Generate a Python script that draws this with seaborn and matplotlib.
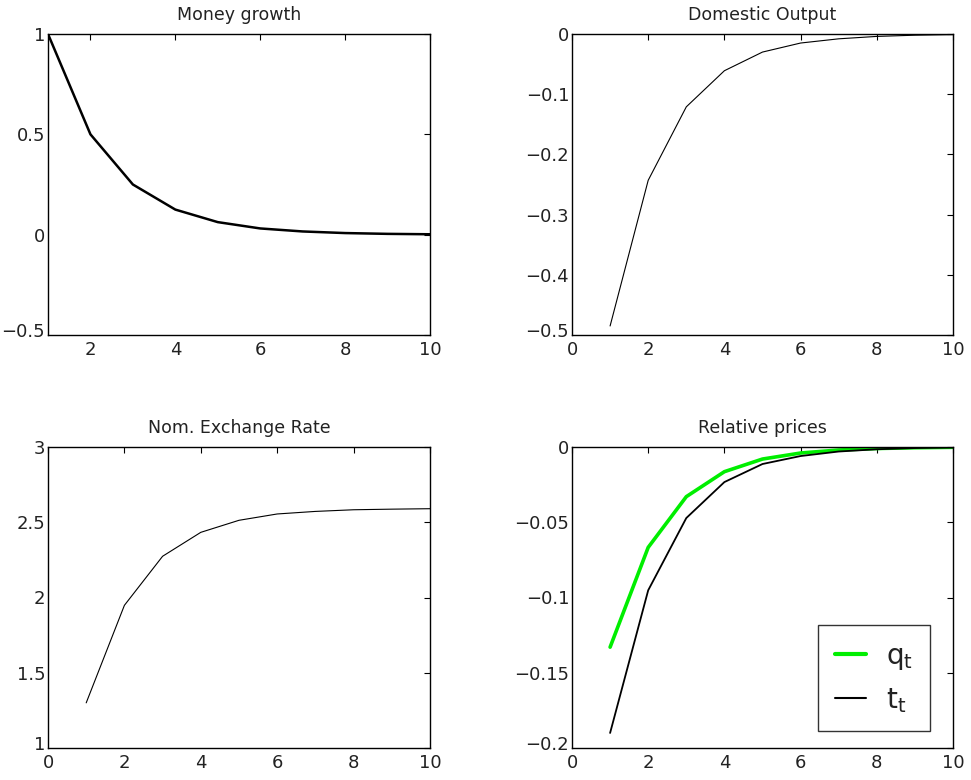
import matplotlib
matplotlib.use("Agg")
import matplotlib.pyplot as plt
import matplotlib.transforms as mtransforms
from matplotlib.ticker import FuncFormatter
import seaborn as sns

# Impulse responses over ten periods
periods = [1, 2, 3, 4, 5, 6, 7, 8, 9, 10]
money_growth = [1.0, 0.5, 0.25, 0.125, 0.0625, 0.031, 0.016, 0.008, 0.004, 0.002]
domestic_output = [-0.485, -0.243, -0.121, -0.061, -0.030, -0.015, -0.008, -0.004, -0.002, -0.001]
exchange_rate = [1.30, 1.948, 2.274, 2.433, 2.513, 2.555, 2.572, 2.583, 2.587, 2.590]
q_t = [-0.133, -0.0667, -0.033, -0.0164, -0.008, -0.004, -0.002, -0.001, -0.0005, -0.0002]
t_t = [-0.190, -0.0952, -0.0472, -0.0233, -0.0113, -0.006, -0.003, -0.0015, -0.0007, -0.0003]

sns.set_style("white")
plt.rcParams["font.family"] = ["DejaVu Sans"]
plt.rcParams["mathtext.fontset"] = "dejavusans"
plt.rcParams["text.color"] = "#222222"

fig = plt.figure(figsize=(9.71, 7.8), dpi=100)
W, H = 971, 780

def make_axes(x0, y0, x1, y1):
    return fig.add_axes([x0 / W, 1 - y1 / H, (x1 - x0) / W, (y1 - y0) / H])

ax1 = make_axes(48, 34, 430, 335)
ax2 = make_axes(572, 34, 953, 335)
ax3 = make_axes(48, 447, 430, 748)
ax4 = make_axes(572, 447, 953, 748)

fmt = FuncFormatter(lambda v, p: ("%g" % v).replace("-", "\u2212"))

def style(ax, title, xlim, ylim, yticks, xticks):
    ax.set_xlim(*xlim)
    ax.set_ylim(*ylim)
    ax.set_xticks(xticks)
    ax.set_yticks(yticks)
    ax.yaxis.set_major_formatter(fmt)
    ax.xaxis.set_major_formatter(fmt)
    ax.tick_params(direction="in", length=4, width=0.8, top=True, right=True,
                   labelsize=13, pad=2, colors="black", labelcolor="#222222")
    ax.tick_params(axis="x", pad=4)
    for s in ax.spines.values():
        s.set_visible(True)
        s.set_color("black")
        s.set_linewidth(1.0)
    ax.set_title(title, fontsize=12.5, pad=10)
    ax.set_xlabel("")
    ax.set_ylabel("")
    # lift the lowest y label a little so it clears the first x label
    lowest = ax.yaxis.get_major_ticks()[0].label1
    lowest.set_transform(lowest.get_transform() +
                         mtransforms.ScaledTranslation(0, 5 / 100, fig.dpi_scale_trans))

sns.lineplot(x=periods, y=money_growth, ax=ax1, color="black", linewidth=1.8)
style(ax1, "Money growth", (1, 10), (-0.5, 1), [-0.5, 0, 0.5, 1], [2, 4, 6, 8, 10])

sns.lineplot(x=periods, y=domestic_output, ax=ax2, color="black", linewidth=0.8)
style(ax2, "Domestic Output", (0, 10), (-0.5, 0), [-0.5, -0.4, -0.3, -0.2, -0.1, 0],
      [0, 2, 4, 6, 8, 10])

sns.lineplot(x=periods, y=exchange_rate, ax=ax3, color="black", linewidth=0.8)
style(ax3, "Nom. Exchange Rate", (0, 10), (1, 3), [1, 1.5, 2, 2.5, 3], [0, 2, 4, 6, 8, 10])

sns.lineplot(x=periods, y=q_t, ax=ax4, color="#00ee00", linewidth=2.6,
             label=r"$\mathrm{q}_{\mathrm{t}}$")
sns.lineplot(x=periods, y=t_t, ax=ax4, color="black", linewidth=1.3,
             label=r"$\mathrm{t}_{\mathrm{t}}$")
style(ax4, "Relative prices", (0, 10), (-0.2, 0), [-0.2, -0.15, -0.1, -0.05, 0],
      [0, 2, 4, 6, 8, 10])
leg = ax4.legend(loc="lower right", bbox_to_anchor=(0.94, 0.055), fontsize=20,
                 frameon=True, fancybox=False, edgecolor="black", handlelength=1.1,
                 borderpad=0.6, labelspacing=0.5, handletextpad=0.75,
                 borderaxespad=0)
leg.get_frame().set_linewidth(1.0)
for line in leg.get_lines():
    line.set_linewidth(line.get_linewidth() * 1.15)

fig.savefig("out.png", dpi=100, facecolor="white")
